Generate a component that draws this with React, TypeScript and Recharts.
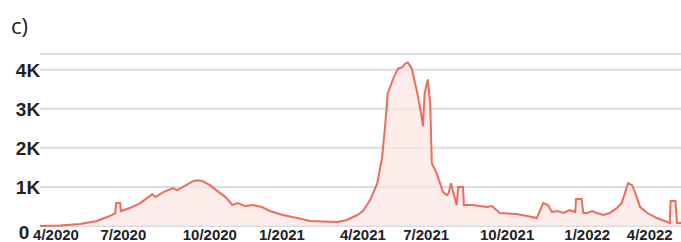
import { AreaChart, Area, XAxis, YAxis, CartesianGrid } from 'recharts';

// x = days from the start of the series, y = count
const days = [
  0, 25, 50, 71, 87, 94, 95, 100, 101, 112, 125, 137, 140, 144, 154, 166, 171, 178, 191, 197,
  203, 212, 225, 233, 240, 247, 256, 266, 277, 287, 303, 321, 337, 353, 371, 383, 396, 403, 412, 421,
  427, 431, 434, 441, 447, 452, 456, 459, 464, 471, 476, 478, 480, 484, 487, 489, 495, 503, 508, 510,
  513, 515, 520, 522, 528, 529, 540, 558, 564, 574, 595, 608, 620, 628, 634, 639, 646, 653, 661, 668,
  669, 676, 678, 683, 689, 695, 703, 711, 720, 726, 730, 734, 739, 743, 749, 758, 770, 783, 786, 787,
  793, 795, 800,
];
const counts = [
  0, 13, 51, 128, 255, 332, 587, 587, 383, 459, 587, 765, 816, 740, 867, 969, 918, 995, 1148, 1173,
  1148, 1046, 842, 714, 536, 587, 510, 536, 485, 383, 281, 204, 128, 115, 102, 153, 281, 383, 663, 1097,
  1760, 2628, 3393, 3776, 4031, 4056, 4158, 4184, 4031, 3393, 2832, 2551, 3393, 3750, 3138, 1607, 1352, 867, 791, 842,
  1097, 918, 536, 995, 995, 536, 536, 485, 510, 332, 306, 255, 204, 587, 536, 357, 383, 332, 408, 357,
  689, 689, 332, 332, 383, 332, 281, 332, 459, 587, 842, 1097, 1046, 842, 485, 332, 204, 102, 77, 638,
  638, 77, 77,
];

const tickDays = [20, 104, 212, 302, 403, 482, 583, 683, 761];
const tickLabels = ['4/2020', '7/2020', '10/2020', '1/2021', '4/2021', '7/2021', '10/2021', '1/2022', '4/2022'];
const yTicks = [0, 1000, 2000, 3000, 4000];
const yLabels = ['0', '1K', '2K', '3K', '4K'];

const data = days.map((d, i) => ({ day: d, count: counts[i] }));

const XTick = ({ x, payload }: any) => {
  const i = tickDays.indexOf(payload.value);
  return (
    <text x={x} y={240} textAnchor="middle" fontFamily="Liberation Sans, Arial, sans-serif" fontWeight="bold" fontSize={15} fill="#222">
      {tickLabels[i]}
    </text>
  );
};

const YTick = ({ y, payload }: any) => {
  const i = yTicks.indexOf(payload.value);
  const zero = payload.value === 0;
  return (
    <text x={zero ? 24 : 28} y={y + (zero ? 13 : 7)} textAnchor="middle" fontFamily="Liberation Sans, Arial, sans-serif" fontWeight="bold" fontSize={19} fill="#222">
      {yLabels[i]}
    </text>
  );
};

export default function App() {
  return (
    <div style={{ position: 'absolute', left: 0, top: 0, width: 681, height: 242, background: '#fff' }}>
      <div style={{ position: 'absolute', left: 11, top: 12, lineHeight: '26px', fontFamily: 'Open Sans, sans-serif', fontSize: 22, fontWeight: 400, color: '#222' }}>c)</div>
      <AreaChart width={681} height={242} data={data} margin={{ top: 54, right: 0, left: 0, bottom: 0 }}>
        <CartesianGrid horizontal vertical={false} stroke="#ddd" strokeWidth={2} />
        <XAxis dataKey="day" type="number" domain={[0, 800]} ticks={tickDays} tick={<XTick />} axisLine={false} tickLine={false} height={16} interval={0} />
        <YAxis type="number" domain={[0, 4400]} ticks={yTicks} tick={<YTick />} axisLine={false} tickLine={false} width={40} interval={0} />
        <Area type="linear" dataKey="count" stroke="#ef6b5c" strokeWidth={2} fill="#fbe4e1" fillOpacity={0.7} isAnimationActive={false} dot={false} activeDot={false} />
      </AreaChart>
    </div>
  );
}
